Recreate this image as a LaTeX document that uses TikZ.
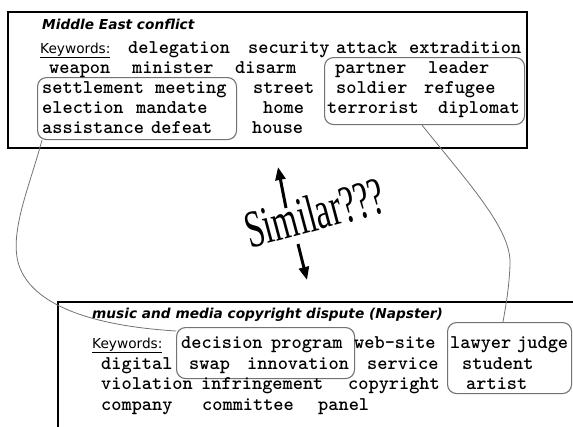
\documentclass[tikz,border=0pt]{standalone}
\usepackage{fontspec}
\setmainfont{Liberation Serif}
\newfontfamily\sansf{DejaVu Sans}
\newfontfamily\simfont[FakeStretch=0.63]{Liberation Serif}
\usetikzlibrary{arrows.meta}
\tikzset{
  kw/.style={anchor=base west, inner sep=0pt, font=\ttfamily\bfseries\fontsize{19.4}{19.4}\selectfont},
  ttl/.style={anchor=base west, inner sep=0pt, font=\sansf\bfseries\itshape\fontsize{13.7}{14}\selectfont},
  lbl/.style={anchor=base west, inner sep=0pt, font=\sansf\fontsize{13.7}{14}\selectfont},
  frame/.style={draw=black, line width=2pt, anchor=north west, inner sep=0pt},
  grp/.style={draw=black!55, line width=1.1pt, rounded corners=9pt, anchor=north west, inner sep=0pt},
  link/.style={draw=black!55, line width=0.8pt},
  bigarrow/.style={-{Triangle[length=13pt,width=10pt]}, line width=3pt}
}
\begin{document}
\begin{tikzpicture}[x=1pt,y=-1pt]
\useasboundingbox (0,0) rectangle (573,426);
\clip (0,0) rectangle (573,426);
% frames
\node[frame, minimum width=519pt, minimum height=136pt] (top) at (7,11) {};
\node[frame, minimum width=560pt, minimum height=200pt] (bot) at (57,301) {};
% groups
\node[grp, minimum width=199pt, minimum height=62pt] (gl) at (37,77) {};
\node[grp, minimum width=200pt, minimum height=67pt] (gr) at (324,57) {};
\node[grp, minimum width=178pt, minimum height=51pt] (gd) at (176,327) {};
\node[grp, minimum width=124pt, minimum height=71pt] (gw) at (447,322) {};
% top box text
\node[ttl] (t1) at (42,29) {Middle East conflict};
\node[lbl] (k1) at (40,53) {\underline{Keywords:}};
\node[kw] (a1) at (128,53) {delegation};
\node[kw] (a2) at (248,53) {security};
\node[kw] (a3) at (336,53) {attack};
\node[kw] (a4) at (409,53) {extradition};
\node[kw] (b1) at (49,73) {weapon};
\node[kw] (b2) at (132,73) {minister};
\node[kw] (b3) at (235,73) {disarm};
\node[kw] (b4) at (335,73) {partner};
\node[kw] (b5) at (428,73) {leader};
\node[kw] (c1) at (42,93) {settlement};
\node[kw] (c2) at (155,93) {meeting};
\node[kw] (c3) at (253,93) {street};
\node[kw] (c4) at (336,93) {soldier};
\node[kw] (c5) at (424,93) {refugee};
\node[kw] (d1) at (42,113) {election};
\node[kw] (d2) at (136,113) {mandate};
\node[kw] (d3) at (263,113) {home};
\node[kw] (d4) at (327,113) {terrorist};
\node[kw] (d5) at (438,113) {diplomat};
\node[kw] (e1) at (42,133) {assistance};
\node[kw] (e2) at (151,133) {defeat};
\node[kw] (e3) at (252,133) {house};
% bottom box text
\node[ttl] (t2) at (92,318) {music and media copyright dispute (Napster)};
\node[lbl] (k2) at (92,348) {\underline{Keywords:}};
\node[kw] (f1) at (181,348) {decision};
\node[kw] (f2) at (271,348) {program};
\node[kw] (f3) at (354,348) {web-site};
\node[kw] (f4) at (450,348) {lawyer};
\node[kw] (f5) at (517,348) {judge};
\node[kw] (g1) at (101,369) {digital};
\node[kw] (g2) at (189,369) {swap};
\node[kw] (g3) at (247,369) {innovation};
\node[kw] (g4) at (367,369) {service};
\node[kw] (g5) at (462,369) {student};
\node[kw] (h1) at (101,389) {violation};
\node[kw] (h2) at (201,389) {infringement};
\node[kw] (h3) at (348,389) {copyright};
\node[kw] (h4) at (466,389) {artist};
\node[kw] (i1) at (101,410) {company};
\node[kw] (i2) at (202,410) {committee};
\node[kw] (i3) at (318,410) {panel};
% similar
\node[rotate=15, anchor=base, inner sep=0pt, font=\simfont\fontsize{53}{53}\selectfont] (sim) at (319,230) {Similar???};
\coordinate (u1) at (286,208);
\coordinate (u2) at (278,167);
\coordinate (v1) at (298,244);
\coordinate (v2) at (307,280);
\draw[bigarrow] (u1) -- (u2);
\draw[bigarrow] (v1) -- (v2);
% links
\coordinate (p1) at ([xshift=5pt]gl.south west);
\coordinate (p2) at ([yshift=-4pt]gd.north west);
\coordinate (q1) at ([xshift=98pt]gr.south west);
\coordinate (q2) at ([xshift=56pt]gw.north west);
\draw[link] (p1) .. controls (30,185) and (10,230) .. (18,262) .. controls (28,300) and (80,325) .. (p2);
\draw[link] (q1) .. controls (470,185) and (512,230) .. (510,265) .. controls (509,290) and (505,310) .. (q2);
\end{tikzpicture}
\end{document}
